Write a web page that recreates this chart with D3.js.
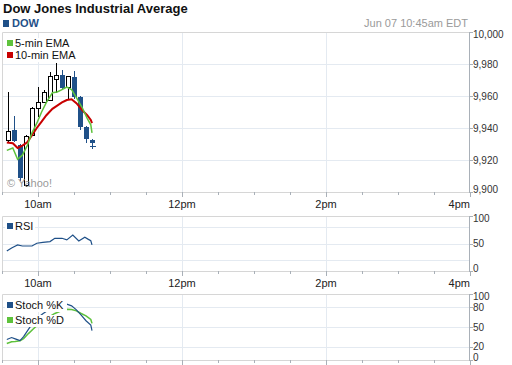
<!DOCTYPE html>
<html>
<head>
<meta charset="utf-8">
<script src="https://cdn.jsdelivr.net/npm/d3@7"></script>
<style>
body { margin: 0; background: #fff; }
text { font-family: Arial, "Liberation Sans", sans-serif; }
</style>
</head>
<body>
<script>
const width = 512;
const height = 365;

// 5-minute bars, stamped at bar end
const barTimes = ["09:35","09:40","09:45","09:50","09:55","10:00","10:05","10:10","10:15","10:20","10:25","10:30","10:35","10:40","10:45"];
const barOpen  = [9932, 9938.5, 9929.5, 9904, 9935.5, 9952.5, 9956, 9957.5, 9970.5, 9973, 9965.5, 9972, 9959.5, 9940.5, 9932.5];
const barHigh  = [9962.5, 9947.5, 9930, 9935.5, 9953, 9965.5, 9963.5, 9975, 9980.5, 9976, 9972.5, 9975.5, 9960, 9941, 9933];
const barLow   = [9931.5, 9931, 9907, 9903, 9935, 9947, 9955.5, 9957, 9962, 9964, 9958, 9958, 9938.5, 9930.5, 9928];
const barClose = [9938, 9932, 9909, 9934.5, 9952.5, 9956, 9962, 9972, 9973, 9965, 9972, 9959.5, 9940.5, 9933, 9930.5];
const lastTime = "10:45";
const lastPrice = 9929;

// moving averages
const emaTimes = ["09:34","09:39","09:43","09:47","09:51","09:55","09:59","10:03","10:07","10:12","10:16","10:20","10:24","10:28","10:32","10:37","10:41","10:44","10:45"];
const ema5  = [9926, 9927.5, 9920.5, 9923, 9929, 9937, 9943, 9950, 9956, 9962, 9962.5, 9964, 9965.5, 9964, 9959, 9952.5, 9946, 9942, 9937];
const ema10 = [9931, 9930.5, 9927.5, 9929, 9931, 9935.5, 9940, 9944, 9948, 9952, 9954, 9956, 9957.5, 9958, 9955.5, 9951, 9948, 9945, 9943];

// RSI
const rsiTimes = ["09:34","09:38","09:43","09:47","09:55","09:59","10:04","10:10","10:14","10:20","10:24","10:29","10:34","10:39","10:42","10:44","10:45"];
const rsiValues = [36.5, 42, 47.5, 45.5, 45.5, 50.5, 52, 53.5, 59.5, 59.5, 56.5, 65.5, 54.5, 61.5, 57.5, 55, 47.5];

// stochastics
const stochTimes = ["09:34","09:38","09:41","09:45","09:48","09:52","09:56","09:59","10:04","10:09","10:14","10:19","10:24","10:28","10:32","10:36","10:40","10:44","10:45"];
const stochK = [31, 34, 32, 29.5, 35.5, 46.5, 57, 63, 70, 76, 80, 83, 84.5, 82, 76, 68, 59.5, 53, 44.5];
const stochD = [25, 27.5, 28, 29, 32.5, 40, 47, 52, 59, 65, 70.5, 74, 77, 76.5, 74.5, 70.5, 67, 61.5, 55.5];

const tickTimes = ["10:00","12:00","14:00","16:00"];
const tickLabels = ["10am","12pm","2pm","4pm"];

const priceTicks = [9900, 9920, 9940, 9960, 9980, 10000];
const rsiTicks = [0, 50, 100];
const rsiGrid = [20, 50, 80];
const stochTicks = [0, 20, 50, 80, 100];

const BLUE = "#1f5088";
const GREEN = "#5ec23c";
const RED = "#c80000";
const GRID = "#e4eaf1";
const BORDER = "#d6d6d6";
const AXIS = "#a9b0b8";

const t = d3.timeParse("%H:%M");

const svg = d3.select("body")
	.append("svg")
	.attr("width", width)
	.attr("height", height);

const x = d3.scaleTime()
	.domain([t("09:30"), t("16:00")])
	.range([2, 470]);

const halfHours = d3.timeMinute.every(30).range(t("09:30"), t("16:01"));

// panels
const panels = {
	price: { top: 32, bottom: 192, y: d3.scaleLinear().domain([9900, 10000]).range([192, 32]) },
	rsi: { top: 216, bottom: 271, y: d3.scaleLinear().domain([0, 100]).range([271, 216]) },
	stoch: { top: 294, bottom: 360, y: d3.scaleLinear().domain([0, 100]).range([360, 294]) }
};

function drawFrame(p, grid, ticks, fmt) {
	const g = svg.append("g");
	// horizontal grid
	g.selectAll(".hg").data(grid).enter().append("line")
		.attr("x1", 2).attr("x2", 469)
		.attr("y1", d => Math.round(p.y(d)) + 0.5)
		.attr("y2", d => Math.round(p.y(d)) + 0.5)
		.attr("stroke", GRID);
	// vertical grid at major hours
	g.selectAll(".vg").data(tickTimes.slice(0, 3)).enter().append("line")
		.attr("x1", d => Math.round(x(t(d))) + 0.5)
		.attr("x2", d => Math.round(x(t(d))) + 0.5)
		.attr("y1", p.top).attr("y2", p.bottom)
		.attr("stroke", GRID);
	// border: top, left, bottom
	g.append("path")
		.attr("d", `M469.5,${p.top + 0.5}H2.5V${p.bottom + 0.5}H469.5`)
		.attr("fill", "none")
		.attr("stroke", BORDER);
	// right axis
	g.append("line")
		.attr("x1", 469.5).attr("x2", 469.5)
		.attr("y1", p.top).attr("y2", p.bottom + 1)
		.attr("stroke", AXIS);
	g.selectAll(".yt").data(ticks).enter().append("line")
		.attr("x1", 469).attr("x2", 473)
		.attr("y1", d => Math.round(p.y(d)) + 0.5)
		.attr("y2", d => Math.round(p.y(d)) + 0.5)
		.attr("stroke", AXIS);
	g.selectAll(".yl").data(ticks).enter().append("text")
		.attr("x", 473)
		.attr("y", d => Math.max(p.top + 2.5, Math.min(p.bottom - 2.5, p.y(d))) + 3.5)
		.attr("font-size", "10px")
		.attr("fill", "#333")
		.text(fmt);
	// bottom time ticks
	g.selectAll(".xt").data(halfHours).enter().append("line")
		.attr("x1", d => Math.round(x(d)) + 0.5)
		.attr("x2", d => Math.round(x(d)) + 0.5)
		.attr("y1", p.bottom)
		.attr("y2", d => d.getMinutes() === 0 && d.getHours() % 2 === 0 ? p.bottom + 5 : p.bottom + 3)
		.attr("stroke", AXIS);
	return g;
}

function drawTimeLabels(yBase) {
	svg.selectAll(null).data(tickTimes).enter().append("text")
		.attr("x", (d, i) => i === tickTimes.length - 1 ? 470 : x(t(d)))
		.attr("y", yBase)
		.attr("text-anchor", (d, i) => i === tickTimes.length - 1 ? "end" : "middle")
		.attr("font-size", "11px")
		.attr("fill", "#222")
		.text((d, i) => tickLabels[i]);
}

const fmtPrice = d3.format(",");
drawFrame(panels.price, priceTicks.slice(1, 5), priceTicks, fmtPrice);
drawFrame(panels.rsi, rsiGrid, rsiTicks, d => d);
drawFrame(panels.stoch, rsiGrid, stochTicks, d => d);
drawTimeLabels(208);
drawTimeLabels(287);

// title
svg.append("text")
	.attr("x", 3).attr("y", 13)
	.attr("font-size", "13px")
	.attr("font-weight", "bold")
	.attr("fill", "#111")
	.text("Dow Jones Industrial Average");
svg.append("rect")
	.attr("x", 3).attr("y", 20).attr("width", 6).attr("height", 7)
	.attr("fill", BLUE);
svg.append("text")
	.attr("x", 12).attr("y", 27)
	.attr("font-size", "11px")
	.attr("font-weight", "bold")
	.attr("fill", BLUE)
	.text("DOW");
svg.append("text")
	.attr("x", 468).attr("y", 27)
	.attr("text-anchor", "end")
	.attr("font-size", "11px")
	.attr("fill", "#9a9a9a")
	.text("Jun 07 10:45am EDT");

// candles
const py = panels.price.y;
const bars = barTimes.map((d, i) => ({
	x: Math.round(x(t(d))),
	o: barOpen[i], h: barHigh[i], l: barLow[i], c: barClose[i]
}));

const candle = svg.append("g").attr("shape-rendering", "crispEdges")
	.selectAll("g").data(bars).enter().append("g");

candle.append("line")
	.attr("x1", d => d.x + 0.5).attr("x2", d => d.x + 0.5)
	.attr("y1", d => py(d.h)).attr("y2", d => py(d.l))
	.attr("stroke", d => d.c >= d.o ? "#000" : BLUE);

candle.append("rect")
	.attr("x", d => d.c >= d.o ? d.x - 1.5 : d.x - 2)
	.attr("width", d => d.c >= d.o ? 4 : 5)
	.attr("y", d => py(Math.max(d.o, d.c)))
	.attr("height", d => Math.max(1, py(Math.min(d.o, d.c)) - py(Math.max(d.o, d.c))))
	.attr("fill", d => d.c >= d.o ? "#fff" : BLUE)
	.attr("stroke", d => d.c >= d.o ? "#000" : "none");

// last trade marker
svg.append("path")
	.attr("transform", `translate(${Math.round(x(t(lastTime))) + 0.5},${Math.round(py(lastPrice)) + 0.5})`)
	.attr("d", "M-3,0H3M0,-2V2")
	.attr("stroke", BLUE)
	.attr("shape-rendering", "crispEdges");

// EMA lines
function drawLine(times, values, yScale, color, w) {
	const line = d3.line()
		.x((d, i) => x(t(times[i])))
		.y(d => yScale(d));
	svg.append("path")
		.attr("d", line(values))
		.attr("fill", "none")
		.attr("stroke", color)
		.attr("stroke-width", w);
}
drawLine(emaTimes, ema10, py, RED, 2);
drawLine(emaTimes, ema5, py, GREEN, 1.5);

// watermark
svg.append("text")
	.attr("x", 7).attr("y", 187)
	.attr("font-size", "11px")
	.attr("fill", "#8c8c8c")
	.attr("fill-opacity", 0.9)
	.text("© Yahoo!");

// legends
function legend(items, x0, y0, step) {
	const g = svg.append("g");
	const row = g.selectAll("g").data(items).enter().append("g")
		.attr("transform", (d, i) => `translate(${x0},${y0 + i * step})`);
	row.append("rect")
		.attr("x", -2).attr("y", -2).attr("height", 12)
		.attr("width", d => d.w)
		.attr("fill", "#fff");
	row.append("rect")
		.attr("x", 0).attr("y", 0).attr("width", 6).attr("height", 6)
		.attr("fill", d => d.color);
	row.append("text")
		.attr("x", 8).attr("y", 6.5)
		.attr("font-size", "11px")
		.attr("fill", "#111")
		.text(d => d.name);
}

legend([
	{ name: "5-min EMA", color: GREEN, w: 70 },
	{ name: "10-min EMA", color: RED, w: 75 }
], 7, 40, 12);

drawLine(rsiTimes, rsiValues, panels.rsi.y, BLUE, 1.2);
legend([{ name: "RSI", color: BLUE, w: 30 }], 7, 223, 12);

drawLine(stochTimes, stochD, panels.stoch.y, GREEN, 1.5);
drawLine(stochTimes, stochK, panels.stoch.y, BLUE, 1.2);
legend([
	{ name: "Stoch %K", color: BLUE, w: 62 },
	{ name: "Stoch %D", color: GREEN, w: 62 }
], 7, 302, 15);
</script>
</body>
</html>
